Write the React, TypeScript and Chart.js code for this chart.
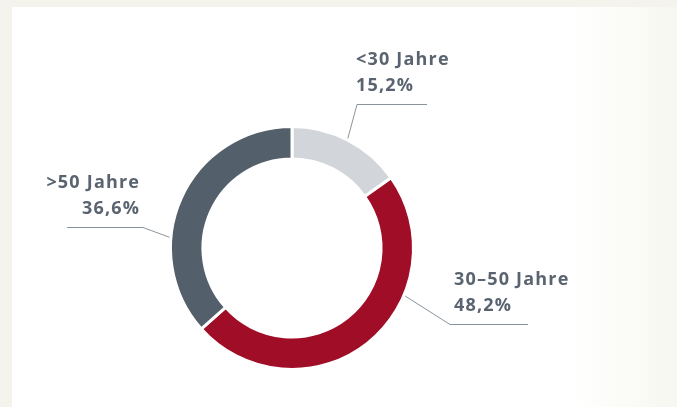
import React, { useEffect, useRef } from "react";
import { Chart, registerables } from "chart.js";

Chart.register(...registerables);

const categories = ["<30 Jahre", "30–50 Jahre", ">50 Jahre"];
const shares = [15.2, 48.2, 36.6];
const shareLabels = ["15,2%", "48,2%", "36,6%"];
const colors = ["#d2d6da", "#9f0d26", "#535f6b"];

// label layout (angle of leader start in degrees clockwise from top, offsets relative to chart centre)
const labelLayout = [
  { angle: 27, elbow: [65, -144], end: [135, -144], text: [64, -183], align: "left" },
  { angle: 113, elbow: [158, 76], end: [236, 76], text: [162, 37], align: "left" },
  { angle: 275, elbow: [-149, -21], end: [-225, -21], text: [-153, -60], align: "right" },
];

const leaderPlugin = {
  id: "leaders",
  afterDatasetsDraw(chart: any) {
    const meta = chart.getDatasetMeta(0);
    const arc = meta.data[0];
    if (!arc) return;
    const cx = arc.x;
    const cy = arc.y;
    const R = arc.outerRadius;
    const ctx = chart.ctx;
    ctx.save();
    labelLayout.forEach((l, i) => {
      const a = (l.angle * Math.PI) / 180;
      const sx = cx + (R + 1.5) * Math.sin(a);
      const sy = cy - (R + 1.5) * Math.cos(a);
      ctx.strokeStyle = "#8a949d";
      ctx.lineWidth = 1;
      ctx.beginPath();
      ctx.moveTo(sx, sy);
      ctx.lineTo(cx + l.elbow[0], cy + l.elbow[1] + 0.5);
      ctx.lineTo(cx + l.end[0], cy + l.end[1] + 0.5);
      ctx.stroke();
      ctx.fillStyle = "#5a6470";
      ctx.font = "700 18px 'Open Sans'";
      (ctx as any).letterSpacing = "1.2px";
      ctx.textAlign = l.align as CanvasTextAlign;
      ctx.textBaseline = "alphabetic";
      const dx = l.align === "right" ? 1.2 : 0;
      ctx.fillText(categories[i], cx + l.text[0] + dx, cy + l.text[1]);
      ctx.fillText(shareLabels[i], cx + l.text[0] + dx, cy + l.text[1] + 26);
    });
    ctx.restore();
  },
};

export default function App() {
  const ref = useRef<HTMLCanvasElement>(null);
  useEffect(() => {
    if (!ref.current) return;
    const chart = new Chart(ref.current, {
      type: "doughnut",
      data: {
        labels: categories,
        datasets: [
          {
            data: shares,
            backgroundColor: colors,
            borderColor: "#ffffff",
            borderWidth: 3,
            hoverOffset: 0,
          },
        ],
      },
      options: {
        animation: false,
        responsive: false,
        maintainAspectRatio: false,
        radius: 121.5,
        cutout: "73.3%",
        layout: { padding: { left: 0, right: 93, top: 89, bottom: 0 } },
        plugins: { legend: { display: false }, tooltip: { enabled: false } },
        events: [],
      } as any,
      plugins: [leaderPlugin],
    });
    return () => chart.destroy();
  }, []);
  return (
    <div style={{ position: "fixed", inset: 0, background: "#f4f4ec", overflow: "hidden" }}>
      <div
        style={{
          position: "absolute",
          left: 12,
          top: 7,
          right: 0,
          bottom: 0,
          background: "linear-gradient(to right, #ffffff 0px, #ffffff 560px, #f7f7f1 665px)",
        }}
      />
      <canvas
        ref={ref}
        width={677}
        height={407}
        style={{ position: "absolute", left: 0, top: 0, width: 677, height: 407 }}
      />
    </div>
  );
}
